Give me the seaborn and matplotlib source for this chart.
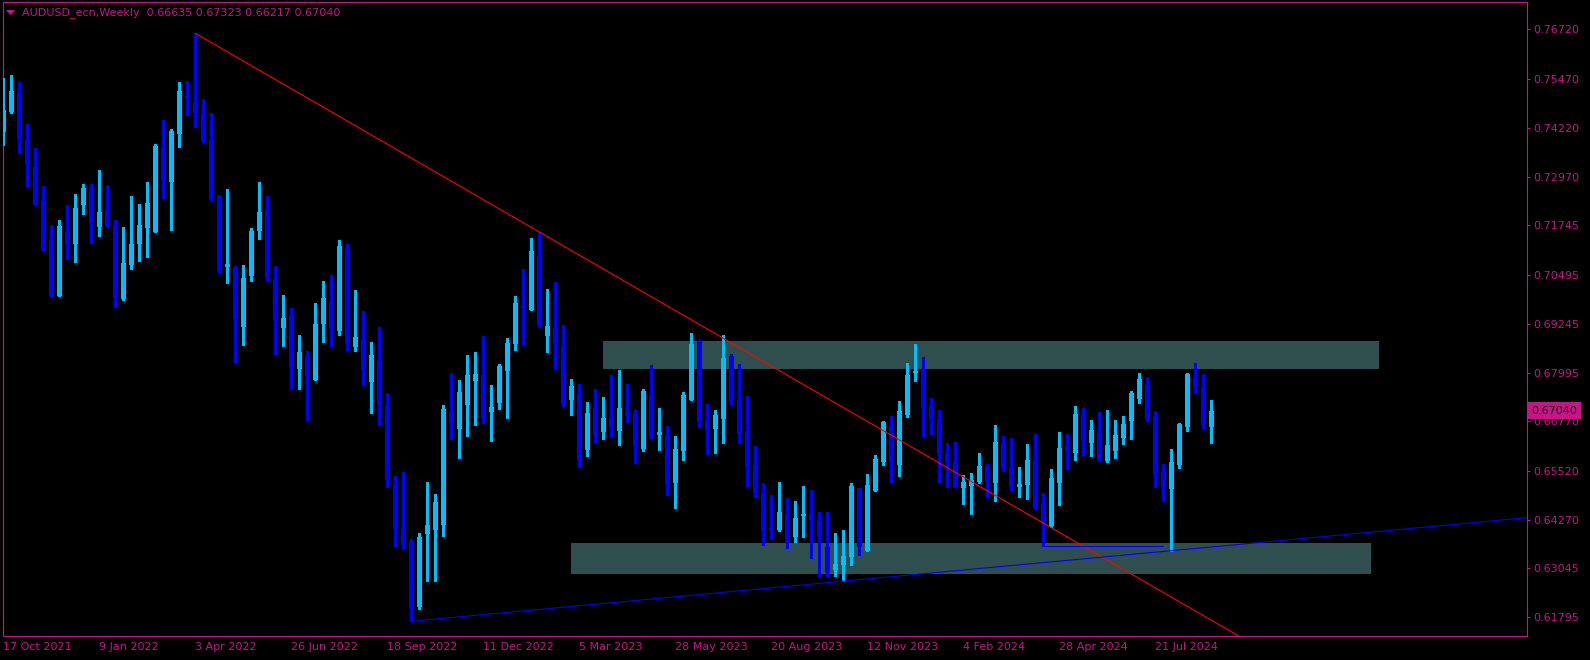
import numpy as np
import pandas as pd
import seaborn as sns
import matplotlib.pyplot as plt
from matplotlib.patches import Rectangle, Polygon

# weekly AUDUSD candles, first bar = week of 17 Oct 2021
opens = [0.74124, 0.74632, 0.75107, 0.73913, 0.73228, 0.72365, 0.71374, 0.69960, 0.71603, 0.71280,
         0.72271, 0.72662, 0.71712, 0.72136, 0.71730, 0.69884, 0.70747, 0.71280, 0.71687, 0.71585,
         0.73736, 0.72855, 0.74073, 0.75031, 0.74878, 0.74574, 0.73913, 0.72492, 0.70696, 0.70663,
         0.69173, 0.70468, 0.71610, 0.72136, 0.70384, 0.69148, 0.69445, 0.68107, 0.68429, 0.67827,
         0.69249, 0.69800, 0.69071, 0.71146, 0.68665, 0.68861, 0.67777, 0.68302, 0.67160, 0.65154,
         0.64037, 0.63707, 0.62056, 0.63917, 0.64019, 0.64146, 0.67007, 0.66583, 0.67193, 0.67802,
         0.67947, 0.67015, 0.67243, 0.68056, 0.68741, 0.69691, 0.69605, 0.70968, 0.68945, 0.69140,
         0.68683, 0.67320, 0.67464, 0.66050, 0.67109, 0.66507, 0.66855, 0.66533, 0.67033, 0.66957,
         0.66076, 0.67414, 0.66431, 0.66423, 0.65212, 0.66025, 0.67320, 0.68810, 0.66779, 0.66583,
         0.66837, 0.68429, 0.67312, 0.66533, 0.65662, 0.64943, 0.64062, 0.64019, 0.64418, 0.63841,
         0.64374, 0.64418, 0.64240, 0.63580, 0.62996, 0.63123, 0.63333, 0.65078, 0.63486, 0.65009,
         0.65745, 0.66652, 0.65669, 0.66939, 0.68005, 0.68074, 0.67160, 0.66830, 0.65949, 0.65738,
         0.65085, 0.65136, 0.65238, 0.65644, 0.65212, 0.66195, 0.65585, 0.65111, 0.65161, 0.65763,
         0.64697, 0.64113, 0.65212, 0.66144, 0.65974, 0.66931, 0.66228, 0.66474, 0.65771, 0.66025,
         0.66355, 0.66786, 0.67345, 0.67693, 0.66880, 0.65484, 0.65060, 0.65669, 0.66634, 0.67871,
         0.67634, 0.66635]
highs = [0.75480, 0.75564, 0.75386, 0.74320, 0.73718, 0.72745, 0.71755, 0.71882, 0.72263, 0.72542,
         0.72796, 0.72796, 0.73152, 0.72771, 0.71882, 0.71704, 0.72492, 0.72288, 0.72847, 0.73812,
         0.74421, 0.74193, 0.75386, 0.75411, 0.76623, 0.74954, 0.74591, 0.72525, 0.72669, 0.70714,
         0.70740, 0.71679, 0.72847, 0.72492, 0.70714, 0.69978, 0.69648, 0.68962, 0.68556, 0.69775,
         0.70333, 0.70486, 0.71374, 0.71273, 0.70105, 0.69572, 0.68785, 0.69165, 0.67490, 0.65382,
         0.65484, 0.63790, 0.63943, 0.65230, 0.64925, 0.67185, 0.67998, 0.67820, 0.68455, 0.68531,
         0.68937, 0.67693, 0.68226, 0.68886, 0.69953, 0.70638, 0.71425, 0.71578, 0.70130, 0.70308,
         0.69216, 0.67845, 0.67718, 0.67261, 0.67591, 0.67388, 0.67947, 0.68074, 0.67718, 0.67066,
         0.67591, 0.68201, 0.67109, 0.66659, 0.66406, 0.67515, 0.69013, 0.68835, 0.67210, 0.67058,
         0.68962, 0.68480, 0.68226, 0.67421, 0.66152, 0.65212, 0.64900, 0.65230, 0.64831, 0.64748,
         0.65128, 0.65027, 0.64468, 0.64468, 0.63935, 0.64011, 0.65205, 0.65078, 0.65433, 0.65916,
         0.66779, 0.66906, 0.67287, 0.68251, 0.68734, 0.68404, 0.67363, 0.67058, 0.66220, 0.66246,
         0.65415, 0.65466, 0.65966, 0.65687, 0.66677, 0.66398, 0.66347, 0.65611, 0.66195, 0.66449,
         0.64943, 0.65560, 0.66500, 0.66449, 0.67160, 0.67109, 0.66804, 0.67007, 0.67058, 0.66804,
         0.66906, 0.67541, 0.67998, 0.67896, 0.67033, 0.65687, 0.66068, 0.66728, 0.67998, 0.68251,
         0.67972, 0.67323]
lows = [0.73786, 0.74607, 0.73591, 0.72753, 0.72263, 0.71128, 0.69927, 0.69960, 0.70892, 0.70823,
        0.72042, 0.71306, 0.71484, 0.71697, 0.69681, 0.69859, 0.70646, 0.70849, 0.70950, 0.71585,
        0.72448, 0.71636, 0.73743, 0.74556, 0.74251, 0.73863, 0.72390, 0.70554, 0.70290, 0.68285,
        0.68708, 0.70341, 0.71400, 0.70366, 0.68488, 0.68691, 0.67624, 0.67599, 0.66812, 0.67827,
        0.68792, 0.68691, 0.68970, 0.68589, 0.68564, 0.67700, 0.66990, 0.66685, 0.65111, 0.63613,
        0.63536, 0.61693, 0.62013, 0.62724, 0.62724, 0.63867, 0.66330, 0.65847, 0.66406, 0.66685,
        0.66736, 0.66279, 0.67091, 0.66863, 0.68589, 0.68716, 0.69605, 0.69173, 0.68538, 0.68107,
        0.67167, 0.66939, 0.65618, 0.65898, 0.66253, 0.66330, 0.66406, 0.66177, 0.66761, 0.65720,
        0.66025, 0.66355, 0.66050, 0.64908, 0.64577, 0.65796, 0.67320, 0.66634, 0.65949, 0.65974,
        0.66228, 0.67218, 0.66228, 0.65136, 0.64857, 0.63638, 0.63790, 0.63994, 0.63562, 0.63714,
        0.63841, 0.63308, 0.62851, 0.62851, 0.62851, 0.62724, 0.63130, 0.63384, 0.63486, 0.65009,
        0.65669, 0.65238, 0.65390, 0.66888, 0.67802, 0.66406, 0.66456, 0.65238, 0.65111, 0.65111,
        0.64679, 0.64425, 0.65212, 0.64857, 0.64755, 0.65517, 0.65034, 0.64857, 0.64806, 0.64552,
        0.63613, 0.64095, 0.64654, 0.65568, 0.65796, 0.65923, 0.65898, 0.65771, 0.65745, 0.65847,
        0.66202, 0.66330, 0.67243, 0.66786, 0.65111, 0.64781, 0.63486, 0.65593, 0.66533, 0.67497,
        0.66583, 0.66217]
closes = [0.74675, 0.75158, 0.73939, 0.73312, 0.72296, 0.71128, 0.69960, 0.71730, 0.71247, 0.72187,
          0.72695, 0.71814, 0.72085, 0.71737, 0.69909, 0.70790, 0.71273, 0.71755, 0.72314, 0.73761,
          0.72905, 0.74142, 0.75158, 0.74987, 0.74607, 0.73888, 0.72415, 0.70587, 0.70765, 0.69369,
          0.70410, 0.71603, 0.72085, 0.70417, 0.69325, 0.69394, 0.68157, 0.68531, 0.67929, 0.69242,
          0.69902, 0.69122, 0.71222, 0.68767, 0.68912, 0.68081, 0.68455, 0.67193, 0.65289, 0.64044,
          0.63638, 0.62013, 0.63834, 0.64138, 0.64722, 0.67083, 0.66736, 0.67515, 0.67947, 0.67972,
          0.66863, 0.67134, 0.68175, 0.68759, 0.69775, 0.69655, 0.71095, 0.69224, 0.69191, 0.68767,
          0.67243, 0.67667, 0.65796, 0.66982, 0.66431, 0.66855, 0.66634, 0.67109, 0.66914, 0.66152,
          0.67541, 0.66406, 0.66507, 0.65161, 0.66068, 0.67439, 0.68734, 0.66761, 0.66558, 0.66931,
          0.68378, 0.67294, 0.66456, 0.65618, 0.64943, 0.63994, 0.64019, 0.64468, 0.63714, 0.64316,
          0.64418, 0.64273, 0.63841, 0.62953, 0.63148, 0.63351, 0.65128, 0.63587, 0.65154, 0.65814,
          0.66753, 0.65745, 0.67033, 0.67947, 0.68048, 0.67116, 0.66837, 0.65949, 0.65745, 0.65111,
          0.65238, 0.65289, 0.65644, 0.65238, 0.66246, 0.65593, 0.65136, 0.65187, 0.65789, 0.64603,
          0.64171, 0.65332, 0.66093, 0.66017, 0.66957, 0.66279, 0.66550, 0.65796, 0.66169, 0.66423,
          0.66703, 0.67490, 0.67845, 0.66837, 0.65441, 0.65111, 0.65738, 0.66703, 0.67972, 0.67650,
          0.66685, 0.67040]

x_tick_labels = ["17 Oct 2021", "9 Jan 2022", "3 Apr 2022", "26 Jun 2022", "18 Sep 2022",
                 "11 Dec 2022", "5 Mar 2023", "28 May 2023", "20 Aug 2023", "12 Nov 2023",
                 "4 Feb 2024", "28 Apr 2024", "21 Jul 2024"]
y_tick_values = [0.76720, 0.75470, 0.74220, 0.72970, 0.71745, 0.70495, 0.69245,
                 0.67995, 0.66770, 0.65520, 0.64270, 0.63045, 0.61795]

title = "AUDUSD_ecn,Weekly  0.66635 0.67323 0.66217 0.67040"

# support / resistance boxes: start bar, end bar, bottom, top
zone_start = [75, 71]
zone_end = [172, 171]
zone_bottom = [0.68099, 0.62902]
zone_top = [0.68810, 0.63681]

UP = "#00BFFF"
DOWN = "#0000FF"
MAG = "#C71585"
ZONE = "#2F4F4F"

sns.set_style("dark", {"axes.facecolor": "black", "figure.facecolor": "black"})
plt.rcParams["font.family"] = ["DejaVu Sans"]
plt.rcParams["font.size"] = 8

df = pd.DataFrame({"open": opens, "high": highs, "low": lows, "close": closes})
df["bar"] = np.arange(len(df))
df["up"] = df["close"] > df["open"]

fig = plt.figure(figsize=(15.9, 6.6), dpi=100)
W, H = 1590, 660
ax = fig.add_axes([2.7 / W, (H - 636) / H, 1524 / W, 634 / H])
ax.set_facecolor("black")

# zones behind candles
for x0, x1, b, t in zip(zone_start, zone_end, zone_bottom, zone_top):
    ax.add_patch(Rectangle((x0, b), x1 - x0, t - b, facecolor=ZONE, edgecolor="none", zorder=1))

cols = np.where(df["up"], UP, DOWN)
ax.vlines(df["bar"], df["low"], df["high"], colors=cols, linewidth=0.75, zorder=3, antialiased=False)
body_lo = np.minimum(df["open"], df["close"])
body_h = np.maximum((df["close"] - df["open"]).abs(), 0.00028)
ax.bar(df["bar"], body_h, bottom=body_lo, width=0.66, color=cols, linewidth=0,
       zorder=4, antialiased=False)

# trend lines anchored on candle extremes
def ray(i0, p0, i1, p1, end):
    slope = (p1 - p0) / (i1 - i0)
    return [i0, end], [p0, p0 + slope * (end - i0)]

rx, ry = ray(24, highs[24], 67, highs[67], 170)
sns.lineplot(x=rx, y=ry, color="#FF0000", linewidth=0.8, ax=ax, zorder=5)
bx, by = ray(51, lows[51], 146, lows[146], 200)
sns.lineplot(x=bx, y=by, color="#0000FF", linewidth=0.8, ax=ax, zorder=5)
sns.lineplot(x=[130, 145], y=[lows[130], lows[130]], color="#0000FF", linewidth=0.8, ax=ax, zorder=5)

ax.set_xlim(-0.075, 190.425)
ax.set_ylim(0.61320, 0.77417)

ax.set_xticks(np.arange(0, 12 * len(x_tick_labels), 12))
ax.set_xticklabels(x_tick_labels)
for lbl in ax.get_xticklabels():
    lbl.set_horizontalalignment("left")
ax.yaxis.tick_right()
ax.set_yticks(y_tick_values)
ax.set_yticklabels([f"{v:.5f}" for v in y_tick_values])
ax.tick_params(axis="both", colors=MAG, labelcolor=MAG, length=2.5, width=0.75,
               direction="out", labelsize=8)
ax.tick_params(axis="x", pad=2)
ax.tick_params(axis="y", pad=2.5)
ax.set_xlabel("")
ax.set_ylabel("")
ax.grid(False)
for sp in ax.spines.values():
    sp.set_visible(True)
    sp.set_color(MAG)
    sp.set_linewidth(0.8)

# last price tag
ax.annotate(f"{closes[-1]:.5f}", xy=(1, closes[-1]), xycoords=("axes fraction", "data"),
            xytext=(5, 0), textcoords="offset pixels", ha="left", va="center",
            color="black", fontsize=8, zorder=10, annotation_clip=False,
            bbox=dict(boxstyle="square,pad=0.3", facecolor=MAG, edgecolor="none"))

# header
fig.text(22 / W, 1 - 13 / H, title, color=MAG, fontsize=8, ha="left", va="center")
fig.add_artist(Polygon([[6 / W, 1 - 10 / H], [15 / W, 1 - 10 / H], [10.5 / W, 1 - 15 / H]],
                       closed=True, facecolor=MAG, edgecolor="none", transform=fig.transFigure))

fig.savefig("out.png", dpi=100, facecolor="black")
